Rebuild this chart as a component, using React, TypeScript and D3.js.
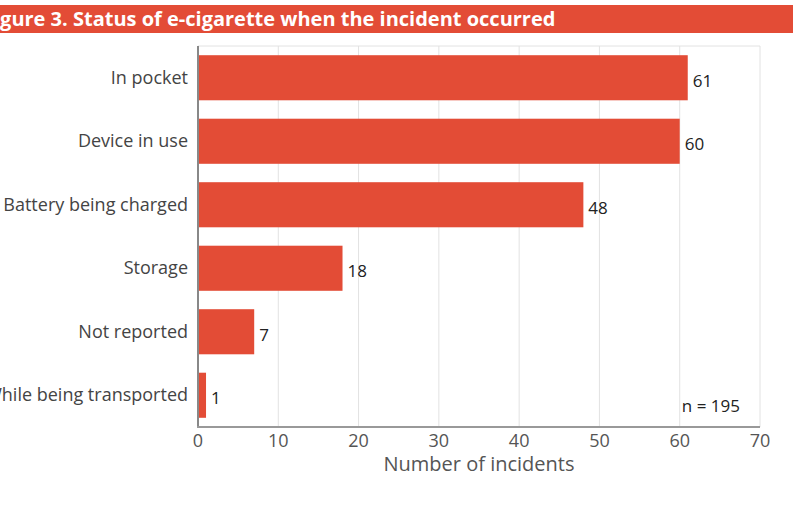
import React from 'react';
import * as d3 from 'd3';

const categories = ['In pocket', 'Device in use', 'Battery being charged', 'Storage', 'Not reported', 'While being transported'];
const incidents = [61, 60, 48, 18, 7, 1];
const xTicks = [0, 10, 20, 30, 40, 50, 60, 70];

const W = 800;
const H = 505;
const RED = '#e34c36';
const FONT = '"Open Sans", "Noto Sans", sans-serif';

const App: React.FC = () => {
  const x = d3.scaleLinear().domain([0, 70]).range([198, 760]);
  const y = d3.scaleBand<string>().domain(categories).range([46, 427]).paddingInner(0.29).paddingOuter(0.145);

  return (
    <svg width={W} height={H} style={{ display: 'block', position: 'absolute', left: 0, top: 0 }} fontFamily={FONT}>
      <rect width={W} height={H} fill="#fff" />
      {/* title bar, cut at the left edge like the source */}
      <rect x={0} y={5} width={793} height={28} fill={RED} />
      <text x={-17} y={26} fill="#fff" fontSize={20} fontWeight="bold">
        Figure 3. Status of e-cigarette when the incident occurred
      </text>

      {/* grid */}
      {xTicks.slice(1).map((t) => (
        <line key={t} x1={x(t)} x2={x(t)} y1={46} y2={427} stroke="#e2e2e2" strokeWidth={1} />
      ))}
      <line x1={x(0)} x2={x(70)} y1={46} y2={46} stroke="#e2e2e2" />

      {/* bars */}
      {categories.map((c, i) => (
        <g key={c}>
          <rect x={x(0)} y={y(c)} width={x(incidents[i]) - x(0)} height={y.bandwidth()} fill={RED} />
          <text x={x(incidents[i]) + 5} y={(y(c) ?? 0) + y.bandwidth() / 2 + 9} fontSize={17} fill="#222">
            {incidents[i]}
          </text>
          <text x={188} y={(y(c) ?? 0) + y.bandwidth() / 2 + 6} fontSize={18} fill="#444" textAnchor="end">
            {c}
          </text>
        </g>
      ))}

      {/* axes */}
      <line x1={x(0)} x2={x(0)} y1={46} y2={428} stroke="#888" strokeWidth={2} />
      <line x1={x(0) - 1} x2={x(70)} y1={427} y2={427} stroke="#999" strokeWidth={2} />
      {xTicks.map((t) => (
        <text key={t} x={x(t)} y={447} fontSize={18} fill="#555" textAnchor="middle">
          {t}
        </text>
      ))}
      <text x={479} y={471} fontSize={20} fill="#555" textAnchor="middle">
        Number of incidents
      </text>
      <text x={740} y={412} fontSize={17} fill="#222" textAnchor="end">
        n = 195
      </text>
    </svg>
  );
};

export default App;
